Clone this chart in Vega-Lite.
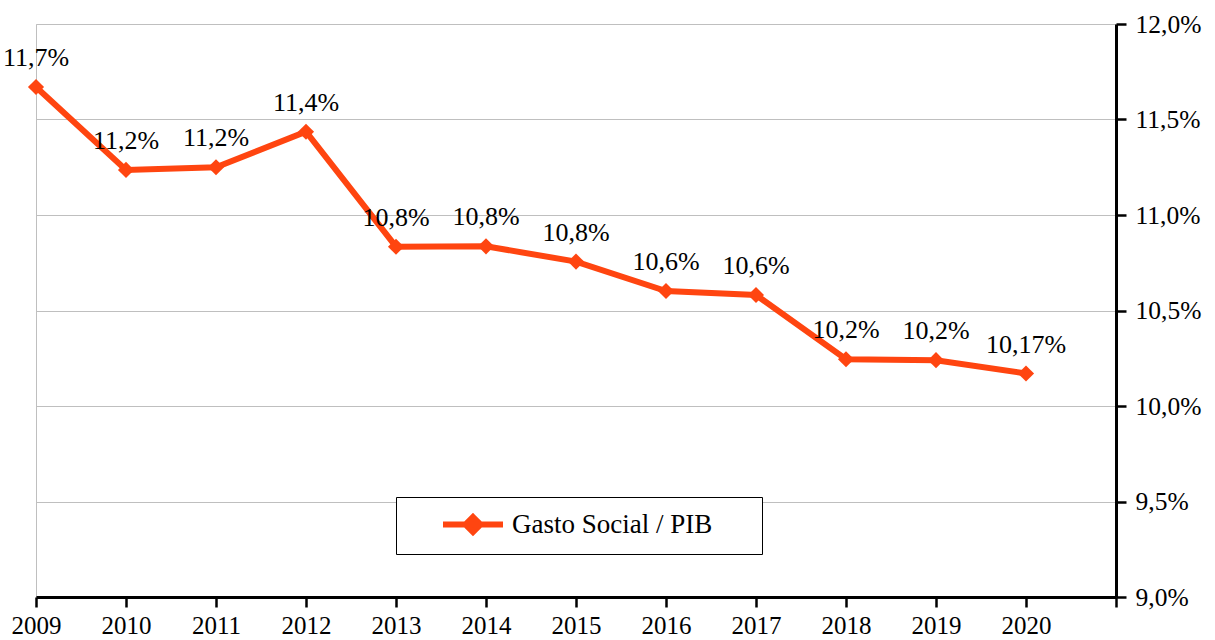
{
  "$schema": "https://vega.github.io/schema/vega-lite/v6.json",
  "autosize": {"type": "none"},
  "width": 1080,
  "height": 573,
  "padding": {"left": 36, "top": 24, "right": 99, "bottom": 43},
  "background": "white",
  "config": {
    "font": "Liberation Serif, Times New Roman, serif",
    "view": {"stroke": "#BFBFBF", "strokeWidth": 1}
  },
  "data": {
    "values": [
      {"year": 2009, "value": 11.67, "label": "11,7%", "series": "Gasto Social / PIB"},
      {"year": 2010, "value": 11.236, "label": "11,2%", "series": "Gasto Social / PIB"},
      {"year": 2011, "value": 11.25, "label": "11,2%", "series": "Gasto Social / PIB"},
      {"year": 2012, "value": 11.436, "label": "11,4%", "series": "Gasto Social / PIB"},
      {"year": 2013, "value": 10.834, "label": "10,8%", "series": "Gasto Social / PIB"},
      {"year": 2014, "value": 10.836, "label": "10,8%", "series": "Gasto Social / PIB"},
      {"year": 2015, "value": 10.756, "label": "10,8%", "series": "Gasto Social / PIB"},
      {"year": 2016, "value": 10.602, "label": "10,6%", "series": "Gasto Social / PIB"},
      {"year": 2017, "value": 10.581, "label": "10,6%", "series": "Gasto Social / PIB"},
      {"year": 2018, "value": 10.245, "label": "10,2%", "series": "Gasto Social / PIB"},
      {"year": 2019, "value": 10.24, "label": "10,2%", "series": "Gasto Social / PIB"},
      {"year": 2020, "value": 10.17, "label": "10,17%", "series": "Gasto Social / PIB"}
    ]
  },
  "encoding": {
    "x": {
      "field": "year",
      "type": "quantitative",
      "scale": {"domain": [2009, 2021], "nice": false, "zero": false},
      "axis": {
        "title": null,
        "grid": false,
        "values": [2009, 2010, 2011, 2012, 2013, 2014, 2015, 2016, 2017, 2018, 2019, 2020, 2021],
        "labelExpr": "datum.value == 2021 ? '' : format(datum.value, 'd')",
        "labelFont": "Liberation Serif, Times New Roman, serif",
        "labelFontSize": 25,
        "labelColor": "black",
        "labelPadding": 6,
        "labelFlush": false,
        "labelOverlap": false,
        "domainColor": "black",
        "domainWidth": 3,
        "tickColor": "black",
        "tickWidth": 2.5,
        "tickSize": 10
      }
    },
    "y": {
      "field": "value",
      "type": "quantitative",
      "scale": {"domain": [9, 12], "nice": false, "zero": false},
      "axis": {
        "title": null,
        "orient": "right",
        "values": [9, 9.5, 10, 10.5, 11, 11.5, 12],
        "labelExpr": "replace(format(datum.value, '.1f'), '.', ',') + '%'",
        "labelFont": "Liberation Serif, Times New Roman, serif",
        "labelFontSize": 25.5,
        "labelColor": "black",
        "labelPadding": 9,
        "labelOverlap": false,
        "labelFlush": false,
        "grid": true,
        "gridColor": "#BFBFBF",
        "gridWidth": 1,
        "domainColor": "black",
        "domainWidth": 3,
        "tickColor": "black",
        "tickWidth": 2.5,
        "tickSize": 10
      }
    }
  },
  "layer": [
    {
      "mark": {"type": "line", "strokeWidth": 6, "color": "#FF4510"},
      "encoding": {
        "color": {
          "field": "series",
          "type": "nominal",
          "scale": {"range": ["#FF4510"]},
          "legend": {
            "title": "\u00a0",
            "titleOrient": "right",
            "titlePadding": 40,
            "titleFontSize": 4,
            "orient": "none",
            "legendX": 360,
            "legendY": 473,
            "direction": "vertical",
            "strokeColor": "black",
            "fillColor": "white",
            "padding": 9.5,
            "symbolType": "M-2,0L2,0M0,-0.5L0.5,0L0,0.5L-0.5,0Z",
            "symbolSize": 900,
            "symbolStrokeWidth": 6,
            "symbolStrokeColor": "#FF4510",
            "symbolFillColor": "#FF4510",
            "symbolOffset": 49.5,
            "labelFont": "Liberation Serif, Times New Roman, serif",
            "labelFontSize": 27,
            "labelColor": "black",
            "labelOffset": 21,
            "labelLimit": 500
          }
        }
      }
    },
    {
      "mark": {"type": "point", "shape": "diamond", "filled": true, "size": 260, "color": "#FF4510", "opacity": 1}
    },
    {
      "mark": {"type": "text", "font": "Liberation Serif, Times New Roman, serif", "fontSize": 26, "color": "black", "baseline": "alphabetic", "align": "center", "dy": -21},
      "encoding": {"text": {"field": "label"}}
    }
  ]
}
